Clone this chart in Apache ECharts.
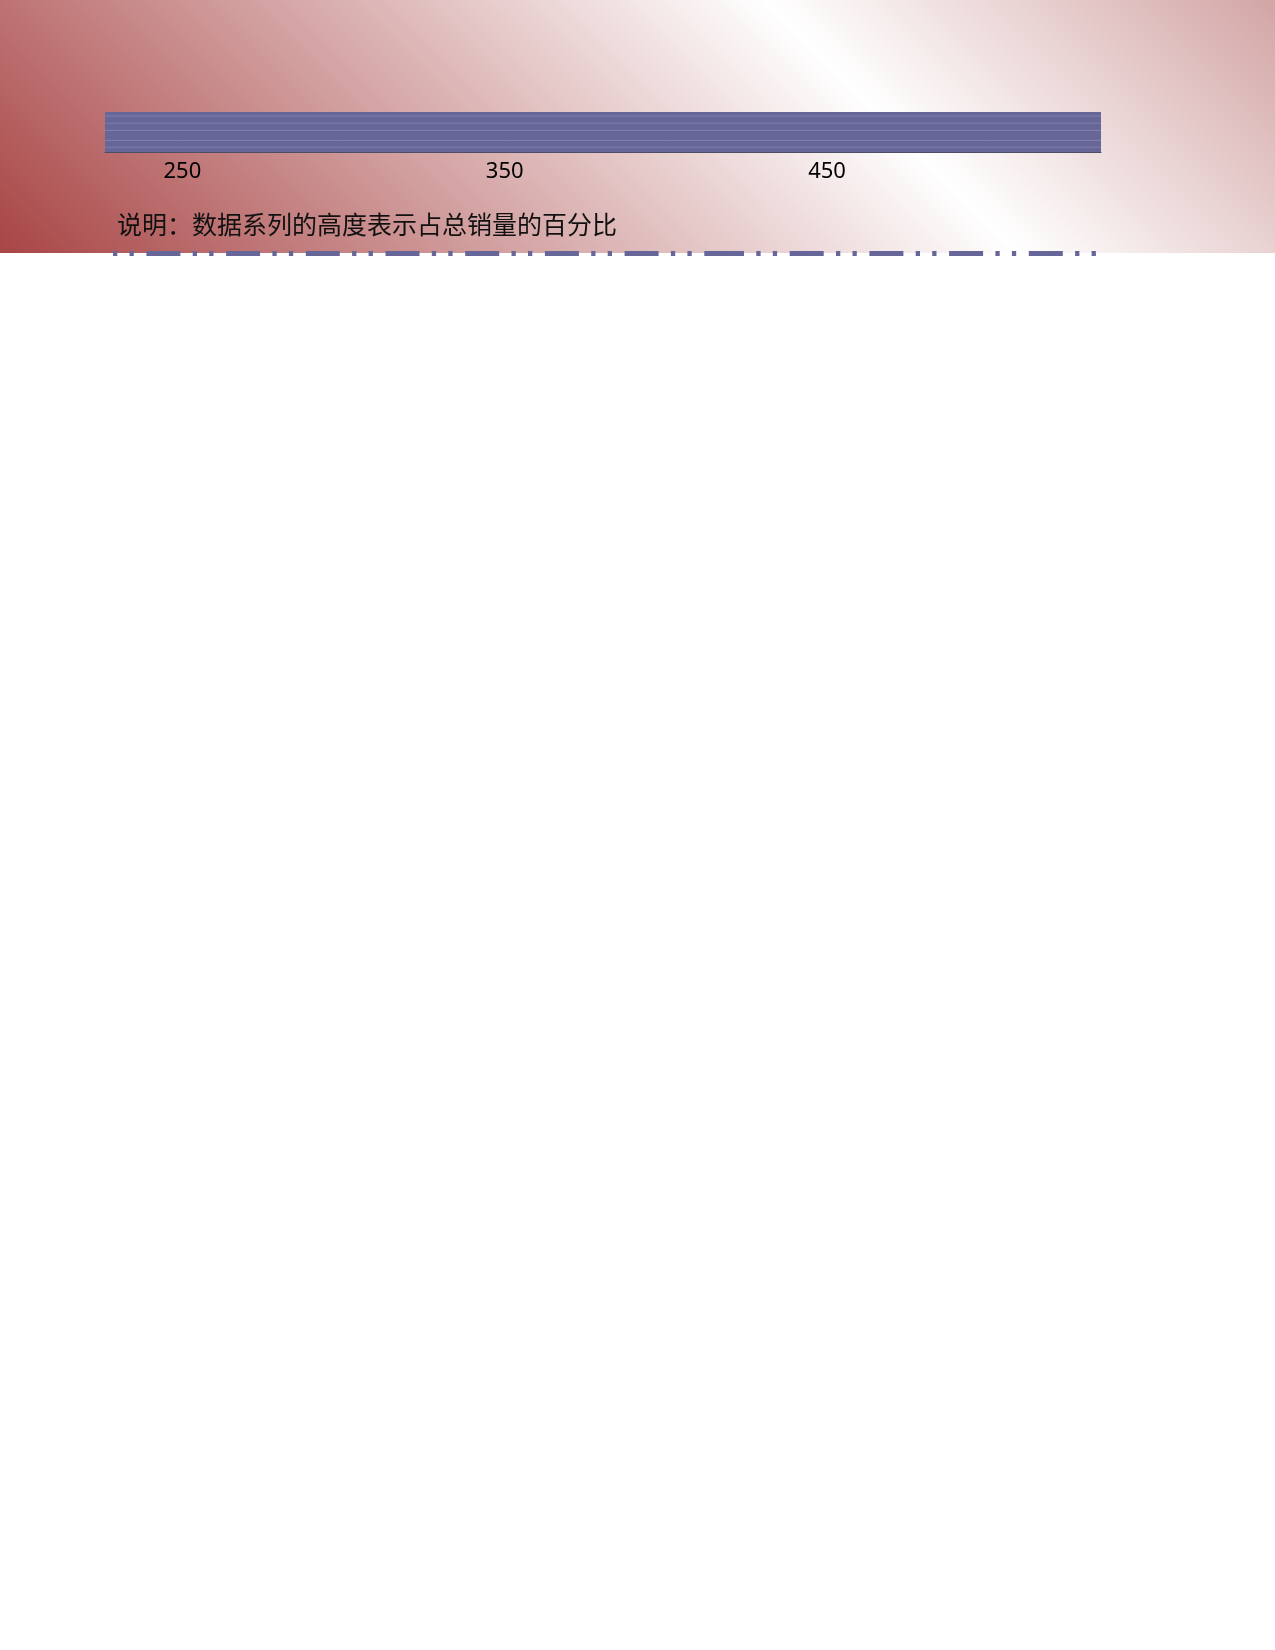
<!DOCTYPE html>
<html lang="zh-CN">
<head>
    <meta charset="UTF-8">
    <title>销量占比</title>
    <style>
        html, body { margin: 0; padding: 0; background: #fff; }
        .page { position: relative; width: 1275px; }
        .page-bg {
            position: absolute; left: 0; top: 0;
            width: 1275px; height: 253px;
            background: linear-gradient(45deg, #a84545 0%, #ffffff 66.7%, #d3a5a5 100%);
        }
        #main { position: relative; width: 1275px; height: 260px; }
    </style>
</head>
<body>
<div class="page">
    <div class="page-bg"></div>
    <div id="main"></div>
</div>
<script src="https://cdn.jsdelivr.net/npm/echarts@6/dist/echarts.min.js"></script>
<script>
    // x positions (price points) and tick labels
    var xValues = [226, 250, 300, 350, 400, 450, 500, 535];
    var tickLabels = [250, 350, 450];

    // share of total sales per series, in %
    var seriesNames = ['系列一', '系列二', '系列三', '系列四', '系列五', '系列六'];
    var share1 = [12, 12, 12, 12, 12, 12, 12, 12];
    var share2 = [17, 17, 17, 17, 17, 17, 17, 17];
    var share3 = [25, 25, 25, 25, 25, 25, 25, 25];
    var share4 = [18, 18, 18, 18, 18, 18, 18, 18];
    var share5 = [18, 18, 18, 18, 18, 18, 18, 18];
    var share6 = [10, 10, 10, 10, 10, 10, 10, 10];
    var shares = [share1, share2, share3, share4, share5, share6];

    var caption = '说明：数据系列的高度表示占总销量的百分比';

    var bandColor = '#666698';
    var myChart = echarts.init(document.getElementById('main'), null, {renderer: 'canvas'});

    // two value axes would stack on x, so the running totals are built here
    var running = xValues.map(function () { return 0; });
    var series = shares.map(function (arr, i) {
        running = running.map(function (v, k) { return v + arr[k]; });
        var last = i === shares.length - 1;
        return {
            name: seriesNames[i],
            type: 'line',
            showSymbol: false,
            z: 20 - i,
            lineStyle: {
                color: 'rgba(255,255,255,0.18)',
                width: 1,
                opacity: last ? 0 : 1
            },
            areaStyle: {color: bandColor, opacity: 1, origin: 'start'},
            data: xValues.map(function (x, k) { return [x, running[k]]; })
        };
    });

    var option = {
        animation: false,
        backgroundColor: 'transparent',
        title: {
            text: caption,
            left: 117,
            top: 212,
            padding: 0,
            textStyle: {
                color: '#111',
                fontSize: 25,
                fontWeight: 'normal',
                fontFamily: 'Noto Sans CJK SC'
            }
        },
        grid: {left: 105, top: 112, width: 996, height: 40, containLabel: false},
        xAxis: {
            type: 'value',
            min: 226,
            max: 535,
            axisLine: {show: true, lineStyle: {color: '#4d4d68', width: 1}},
            axisTick: {show: true, inside: true, length: 5, customValues: tickLabels,
                lineStyle: {color: '#4d4d68'}},
            axisLabel: {
                customValues: tickLabels,
                margin: 9,
                color: '#000',
                fontSize: 22,
                fontFamily: 'Noto Sans'
            },
            splitLine: {show: false}
        },
        yAxis: {
            type: 'value',
            min: 0,
            max: 100,
            show: false
        },
        series: series,
        graphic: [
            {
                type: 'line',
                silent: true,
                shape: {x1: 113, y1: 253.5, x2: 742, y2: 253.5},
                style: {stroke: bandColor, lineWidth: 5, lineDash: [4.3, 12.2, 4.3, 12.6, 34, 12.3]}
            },
            {
                type: 'line',
                silent: true,
                shape: {x1: 710, y1: 253.5, x2: 1096, y2: 253.5},
                style: {stroke: bandColor, lineWidth: 5, lineDash: [34, 12.3, 4.3, 12.2, 4.3, 12.6]}
            }
        ]
    };
    myChart.setOption(option);
</script>
</body>
</html>
